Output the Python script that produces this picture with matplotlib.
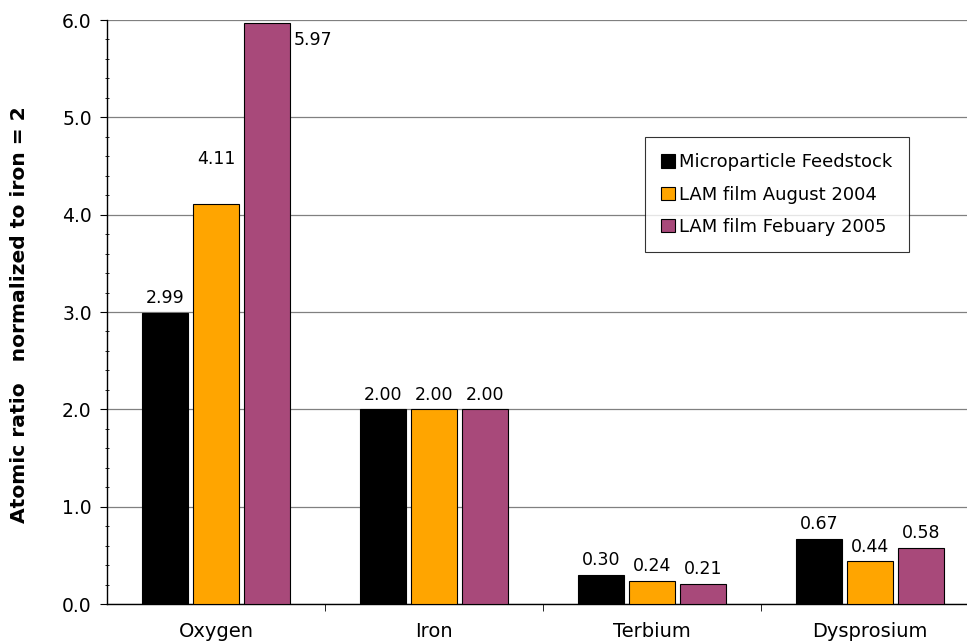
import matplotlib
matplotlib.use("Agg")
import matplotlib.pyplot as plt
import numpy as np
from matplotlib.ticker import MultipleLocator

categories = ["Oxygen", "Iron", "Terbium", "Dysprosium"]
series_names = ["Microparticle Feedstock", "LAM film August 2004", "LAM film Febuary 2005"]
feedstock = [2.99, 2.00, 0.30, 0.67]
aug2004 = [4.11, 2.00, 0.24, 0.44]
feb2005 = [5.97, 2.00, 0.21, 0.58]
colors = ["#000000", "#FFA500", "#A8497A"]

plt.rcParams['font.family'] = ['DejaVu Sans']
fig = plt.figure(figsize=(9.67, 6.44), dpi=100)
ax = fig.add_axes([107/967, 40/644, (979-107)/967, (604-20)/644])

FS = 13
x = np.arange(len(categories))
w = 0.215
off = 0.234
all_series = [feedstock, aug2004, feb2005]
for i, (vals, name, c) in enumerate(zip(all_series, series_names, colors)):
    bars = ax.bar(x + (i - 1) * off, vals, w, color=c, edgecolor="black", linewidth=0.8, label=name, zorder=3)
    for j, (b, v) in enumerate(zip(bars, vals)):
        cx = b.get_x() + b.get_width() / 2
        if i == 2 and j == 0:
            ax.annotate(f"{v:.2f}", (b.get_x() + b.get_width(), v), xytext=(2, -12),
                        textcoords="offset points", ha="left", va="center", fontsize=FS - 0.5)
        elif i == 1 and j == 0:
            ax.annotate(f"{v:.2f}", (cx, v), xytext=(0, 26),
                        textcoords="offset points", ha="center", va="bottom", fontsize=FS - 0.5)
        else:
            ax.annotate(f"{v:.2f}", (cx, v), xytext=(0, 4),
                        textcoords="offset points", ha="center", va="bottom", fontsize=FS - 0.5)

ax.set_xlim(-0.5, 3.5)
ax.set_ylim(0, 6)
ax.yaxis.set_major_locator(MultipleLocator(1.0))
ax.yaxis.set_minor_locator(MultipleLocator(0.2))
ax.set_yticks(np.arange(0, 6.01, 1.0))
ax.set_yticklabels([f"{t:.1f}" for t in np.arange(0, 6.01, 1.0)])
ax.yaxis.grid(True, which="major", color="#808080", linewidth=0.9, zorder=0)
ax.set_axisbelow(True)
ax.set_xticks(x)
ax.set_xticklabels(categories, fontsize=FS + 1)
ax.set_xticks([0.5, 1.5, 2.5, 3.5], minor=True)
ax.tick_params(axis="x", which="major", length=0, pad=13)
ax.tick_params(axis="x", which="minor", length=5, direction="out")
ax.tick_params(axis="y", which="major", length=5, direction="out", labelsize=FS + 0.5, pad=6)
ax.tick_params(axis="y", which="minor", length=3, direction="inout")
for s in ["top", "right"]:
    ax.spines[s].set_visible(False)
ax.spines["left"].set_linewidth(1.0)
ax.spines["bottom"].set_linewidth(1.0)

fig.text(20/967, 1 - 315/644, "Atomic ratio   normalized to iron = 2", rotation=90,
         ha="center", va="center", fontsize=14.6, fontweight="bold")

leg = ax.legend(loc="upper left", bbox_to_anchor=((645-107)/872, (604-137)/584),
                fontsize=FS, frameon=True, fancybox=False, edgecolor="black",
                handlelength=0.75, handleheight=0.75, handletextpad=0.25,
                labelspacing=0.8, borderpad=0.9, borderaxespad=0)
leg.get_frame().set_linewidth(0.8)

fig.savefig("out.png", dpi=100)
